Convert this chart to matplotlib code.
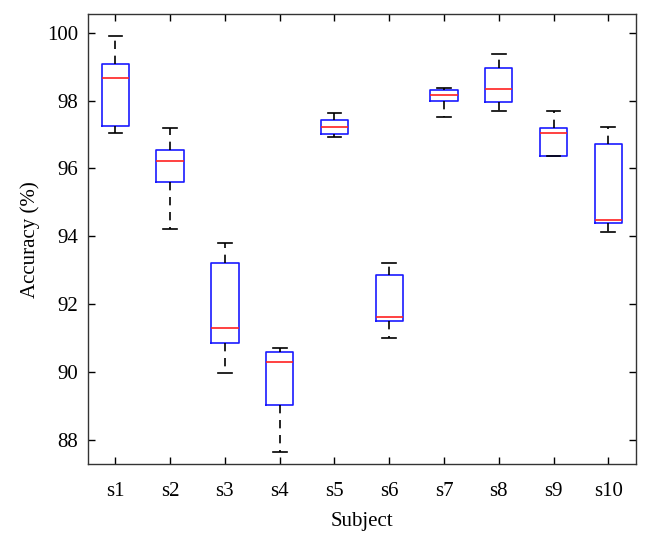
import matplotlib
matplotlib.use("Agg")
import matplotlib.pyplot as plt

# per-subject box statistics
subjects = ["s1", "s2", "s3", "s4", "s5", "s6", "s7", "s8", "s9", "s10"]
whisker_low = [97.05, 94.21, 89.99, 87.66, 96.93, 91.02, 97.52, 97.69, 96.38, 94.14]
q1 = [97.24, 95.61, 90.87, 89.05, 97.02, 91.51, 97.98, 97.97, 96.38, 94.39]
median = [98.66, 96.21, 91.31, 90.30, 97.21, 91.64, 98.15, 98.33, 97.04, 94.48]
q3 = [99.08, 96.55, 93.22, 90.61, 97.43, 92.87, 98.30, 98.97, 97.19, 96.72]
whisker_high = [99.89, 97.19, 93.81, 90.71, 97.62, 93.22, 98.38, 99.36, 97.68, 97.23]

plt.rcParams["font.family"] = ["Liberation Serif", "DejaVu Serif"]

stats = [
    dict(label=s, whislo=lo, q1=a, med=m, q3=b, whishi=hi, fliers=[])
    for s, lo, a, m, b, hi in zip(subjects, whisker_low, q1, median, q3, whisker_high)
]

fig = plt.figure(figsize=(6.5, 5.46), dpi=100)
ax = fig.add_axes([0.1354, 0.150, 0.8426, 0.824])

ax.bxp(
    stats, widths=0.5, showfliers=False,
    boxprops=dict(color="#1a1aff", linewidth=1.2),
    medianprops=dict(color="#ff2020", linewidth=1.2),
    whiskerprops=dict(color="black", linestyle=(0, (5, 4)), linewidth=1.2),
    capprops=dict(color="black", linewidth=1.2),
)

ax.set_xlim(0.5, 10.5)
ax.set_ylim(87.3, 100.54)
ax.set_yticks([88, 90, 92, 94, 96, 98, 100])
ax.set_xticks(range(1, 11))
ax.set_xticklabels(subjects)
ax.tick_params(direction="in", top=True, right=True, length=5, width=1,
               labelsize=15)
ax.tick_params(axis="x", pad=13)
ax.tick_params(axis="y", pad=7)
for sp in ax.spines.values():
    sp.set_linewidth(1.0)
    sp.set_color("#333333")

ax.set_xlabel("Subject", fontsize=15, labelpad=8)
ax.set_ylabel("Accuracy (%)", fontsize=15, labelpad=5)

fig.savefig("out.png", dpi=100)
